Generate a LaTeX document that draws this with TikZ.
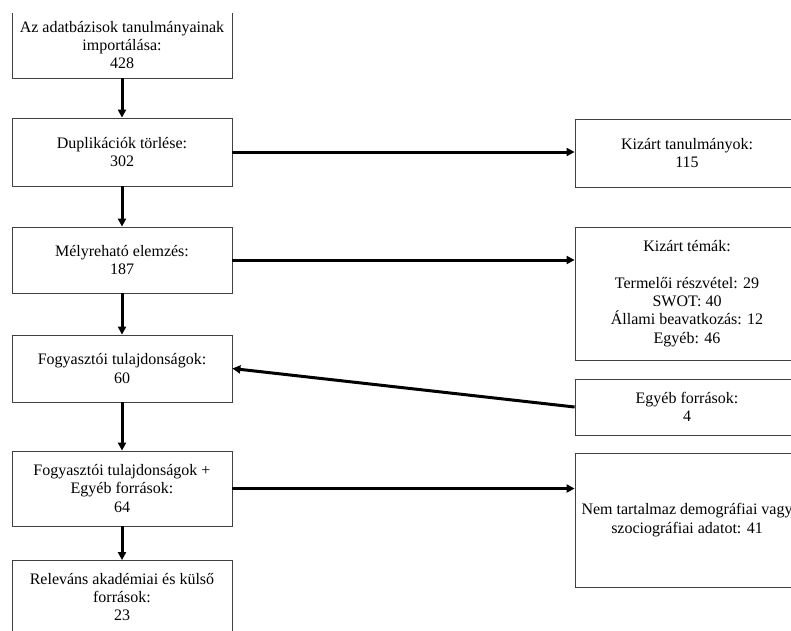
\documentclass[tikz,border=0pt]{standalone}
\usepackage{fontspec}
\setmainfont{Liberation Serif}
\usetikzlibrary{arrows.meta}
\begin{document}
\begin{tikzpicture}[x=1pt, y=-1pt,
    box/.style={draw=black!75, line width=0.8pt, rectangle, align=center, inner sep=2pt,
      font=\fontsize{16}{18.4}\selectfont},
    leftbox/.style={box, minimum width=220pt},
    rightbox/.style={box, minimum width=224pt},
    flow/.style={line width=3pt, -{Triangle[length=8pt, width=8pt]}}]
    \useasboundingbox (0,0) rectangle (791,630);
    \clip (0,13) rectangle (791,630);
    % left column
    \node[leftbox, minimum height=66pt] (import) at (122,45) {Az adatbázisok tanulmányainak\\ importálása:\\ 428};
    \node[leftbox, minimum height=68pt] (dupl) at (122,152) {Duplikációk törlése:\\ 302};
    \node[leftbox, minimum height=66pt] (melyr) at (122,260) {Mélyreható elemzés:\\ 187};
    \node[leftbox, minimum height=67pt] (fogy) at (122,368.5) {Fogyasztói tulajdonságok:\\ 60};
    \node[leftbox, minimum height=75pt] (fogyegyeb) at (122,488.5) {Fogyasztói tulajdonságok +\\ Egyéb források:\\ 64};
    \node[leftbox, minimum height=73pt] (relev) at (122,597) {Releváns akadémiai és külső\\ források:\\ 23};
    % right column
    \node[rightbox, minimum height=68pt] (kizart) at (687,153) {Kizárt tanulmányok:\\ 115};
    \node[rightbox, minimum height=133pt] (temak) at (687,293.5) {Kizárt témák:\\[18.4pt] Termelői részvétel: 29\\ SWOT: 40\\ Állami beavatkozás: 12\\ Egyéb: 46};
    \node[rightbox, minimum height=56pt] (egyeb) at (687,407) {Egyéb források:\\ 4};
    \node[rightbox, minimum height=134pt] (nemtart) at (687,520) {Nem tartalmaz demográfiai vagy\\ szociográfiai adatot: 41};
    % connectors
    \draw[flow] (import) -- (dupl);
    \draw[flow] (dupl) -- (melyr);
    \draw[flow] (melyr) -- (fogy);
    \draw[flow] (fogy) -- (fogyegyeb);
    \draw[flow] (fogyegyeb) -- (relev);
    \draw[flow] (dupl.east) -- (dupl.east -| kizart.west);
    \draw[flow] (melyr.east) -- (melyr.east -| temak.west);
    \draw[flow] (egyeb.west) -- (fogy.east);
    \draw[flow] (fogyegyeb.east) -- (fogyegyeb.east -| nemtart.west);
\end{tikzpicture}
\end{document}
